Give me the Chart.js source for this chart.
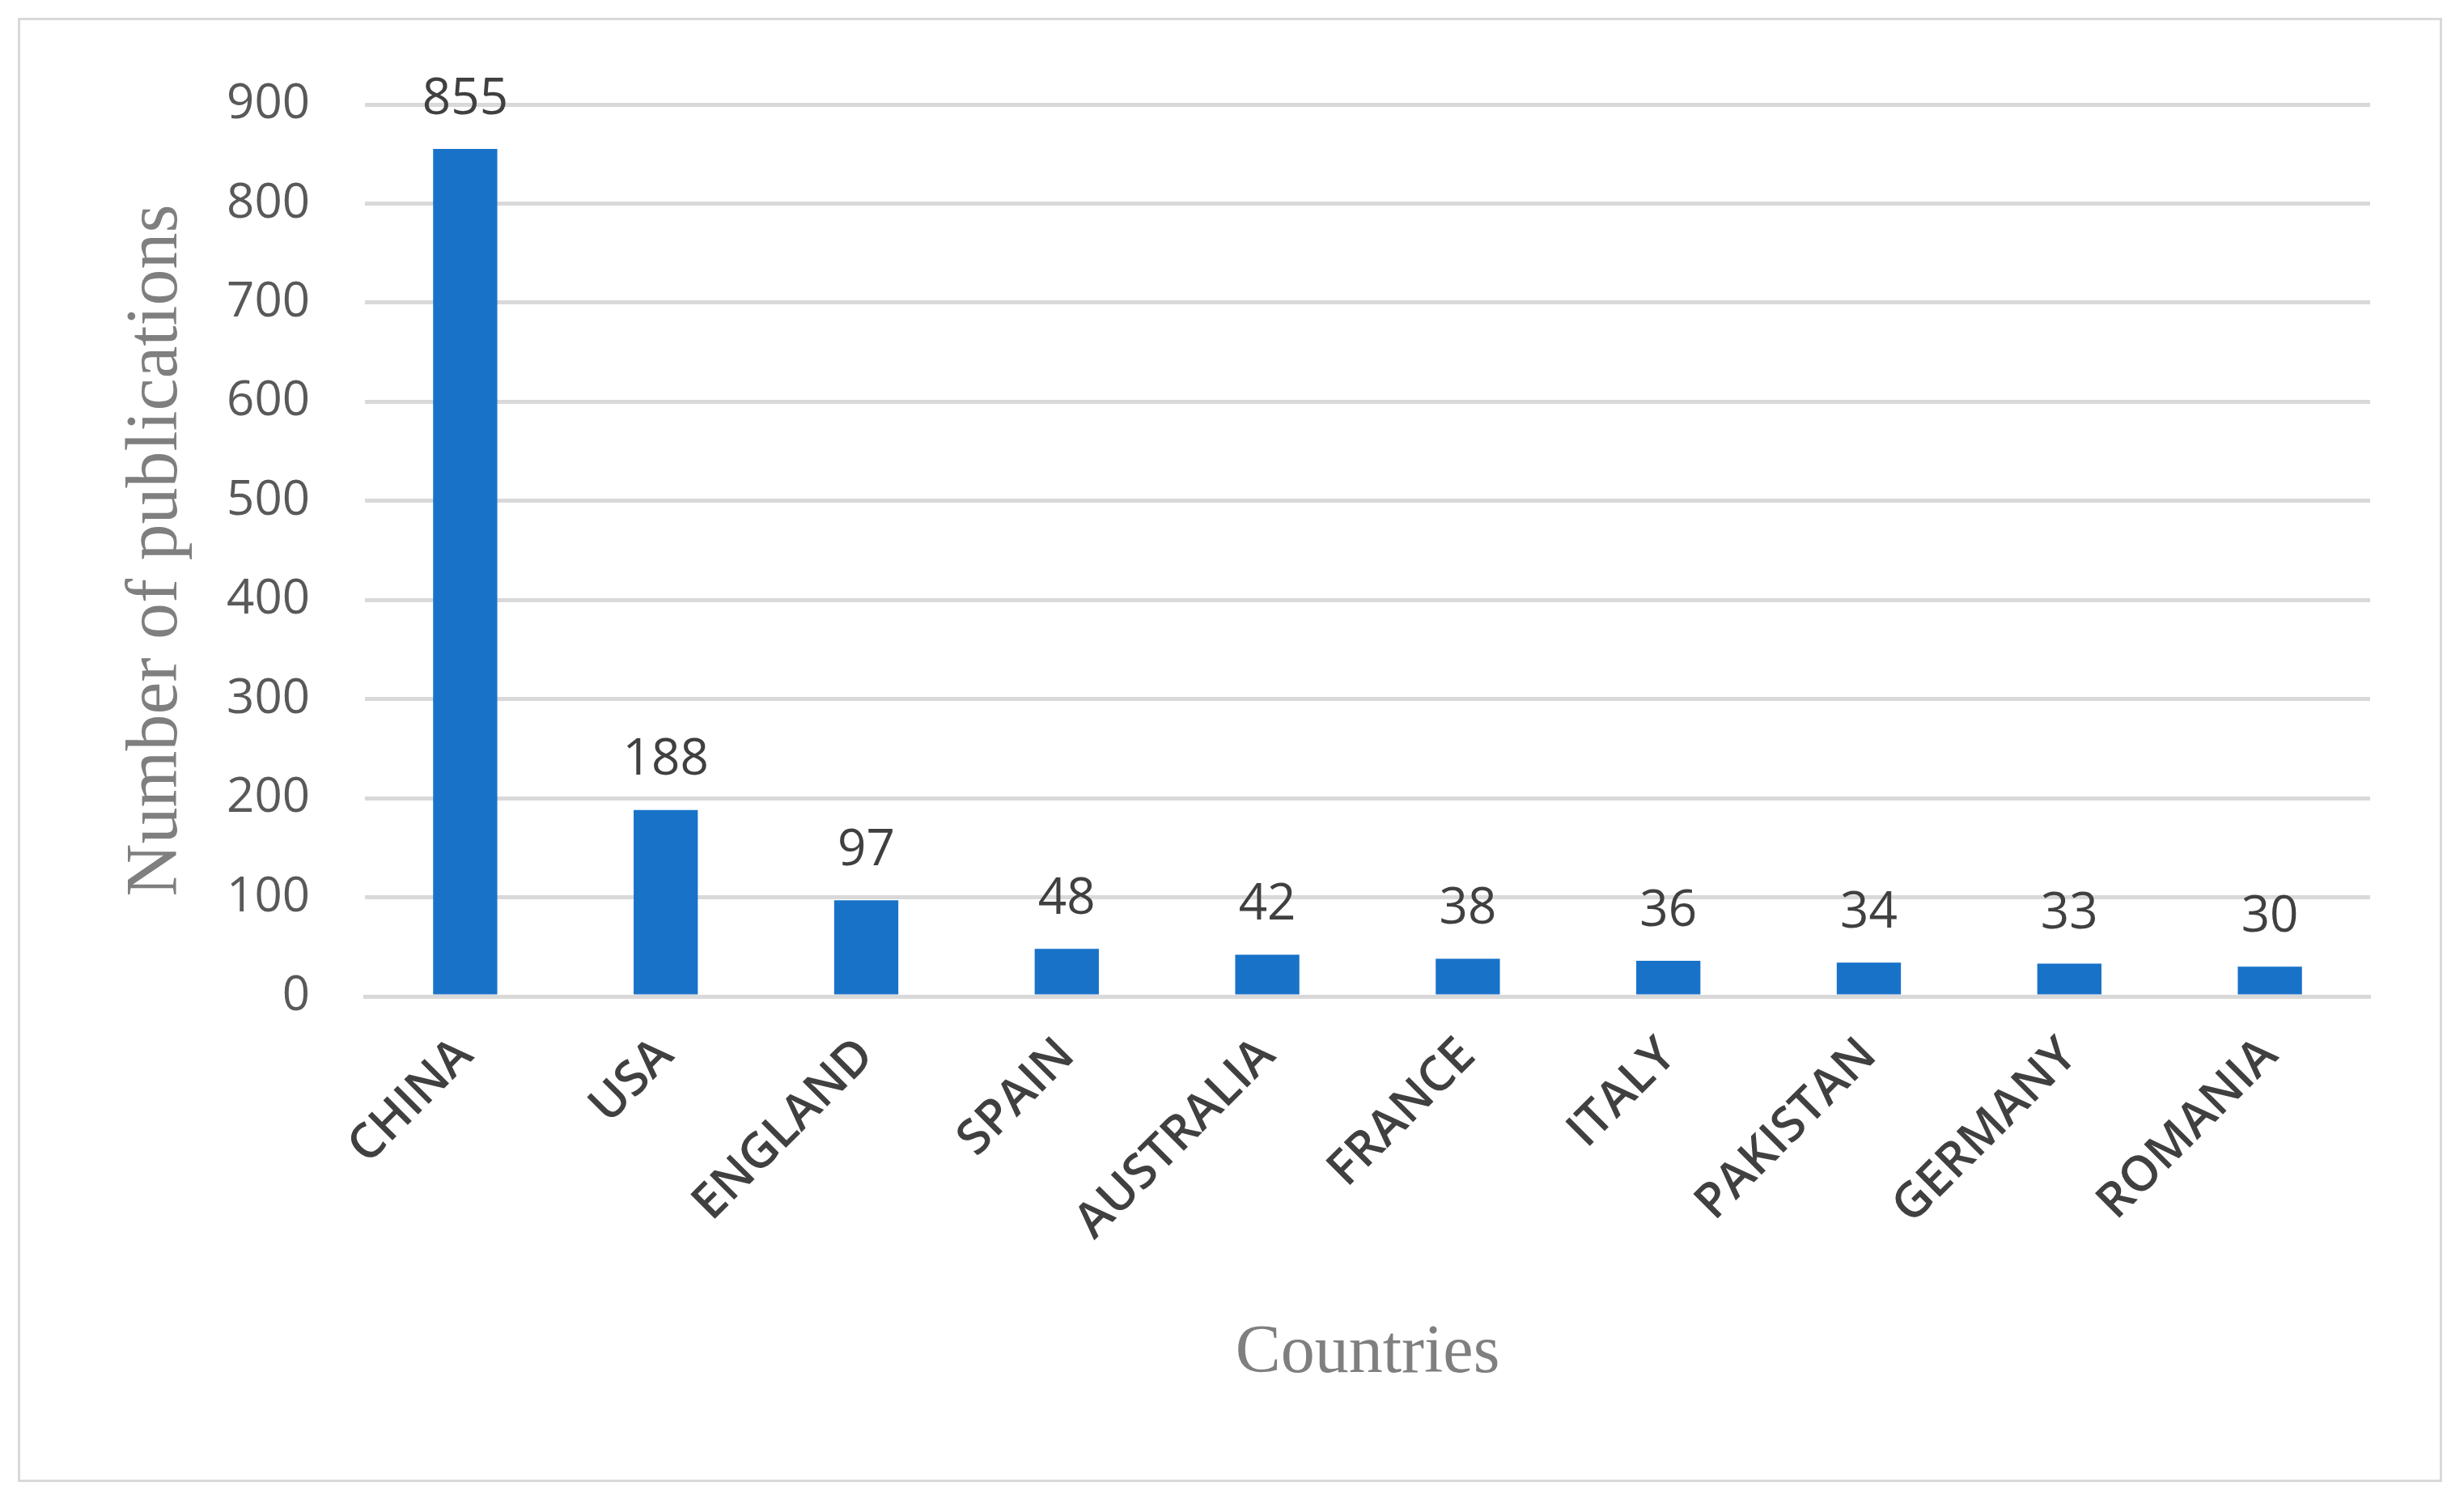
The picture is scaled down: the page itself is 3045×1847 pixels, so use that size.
<!DOCTYPE html>
<html><head><meta charset="utf-8">
<script src="https://cdn.jsdelivr.net/npm/chart.js@4"></script>
<style>
html,body{margin:0;padding:0;background:#fff;width:3045px;height:1847px;overflow:hidden}
#box{position:absolute;left:22px;top:22px;width:2990px;height:1803px;border:3px solid #d9d9d9}
</style></head><body>
<div id="box"><canvas id="c" width="2990" height="1803"></canvas></div>
<script>
const categories=["CHINA","USA","ENGLAND","SPAIN","AUSTRALIA","FRANCE","ITALY","PAKISTAN","GERMANY","ROMANIA"];
const publications=[855,188,97,48,42,38,36,34,33,30];
const yTicks=[0,100,200,300,400,500,600,700,800,900];

const labelPlugin={id:'vals',afterDatasetsDraw(chart){
  const ctx=chart.ctx;const meta=chart.getDatasetMeta(0);
  ctx.save();ctx.font='62px "Open Sans", sans-serif';ctx.fillStyle='#404040';
  ctx.textAlign='center';ctx.textBaseline='bottom';
  meta.data.forEach((b,i)=>{ctx.fillText(String(publications[i]),b.x,b.y-30);});
  ctx.restore();}};

new Chart(document.getElementById('c'),{
  type:'bar',
  data:{labels:categories,datasets:[{data:publications,backgroundColor:'#1872c8',barPercentage:0.32,categoryPercentage:1}]},
  options:{responsive:false,animation:false,devicePixelRatio:1,
    layout:{padding:{top:94,right:86,left:0,bottom:0}},
    plugins:{legend:{display:false},tooltip:{enabled:false}},
    scales:{
      y:{min:0,max:900,afterBuildTicks(s){s.ticks=yTicks.map(v=>({value:v}));},
        afterFit(s){s.width=426;},
        border:{display:false},
        grid:{color:'#d9d9d9',lineWidth:5,drawTicks:false},
        ticks:{color:'#595959',font:{size:60,family:'"Open Sans", sans-serif'},padding:68},
        title:{display:true,text:'Number of publications',color:'#7f7f7f',font:{size:90,family:'"Liberation Serif", serif'},padding:{top:115,bottom:0}}},
      x:{afterFit(s){s.height=597;},
        border:{display:true,color:'#d9d9d9',width:5},
        grid:{display:false,drawTicks:false},
        ticks:{color:'#404040',minRotation:45,maxRotation:45,padding:38,font:{size:60,family:'"Open Sans", sans-serif',weight:'600'}},
        title:{display:true,text:'Countries',color:'#7f7f7f',font:{size:84,family:'"Liberation Serif", serif'},padding:{top:0,bottom:105}}}
    }},
  plugins:[labelPlugin]
});
</script></body></html>
